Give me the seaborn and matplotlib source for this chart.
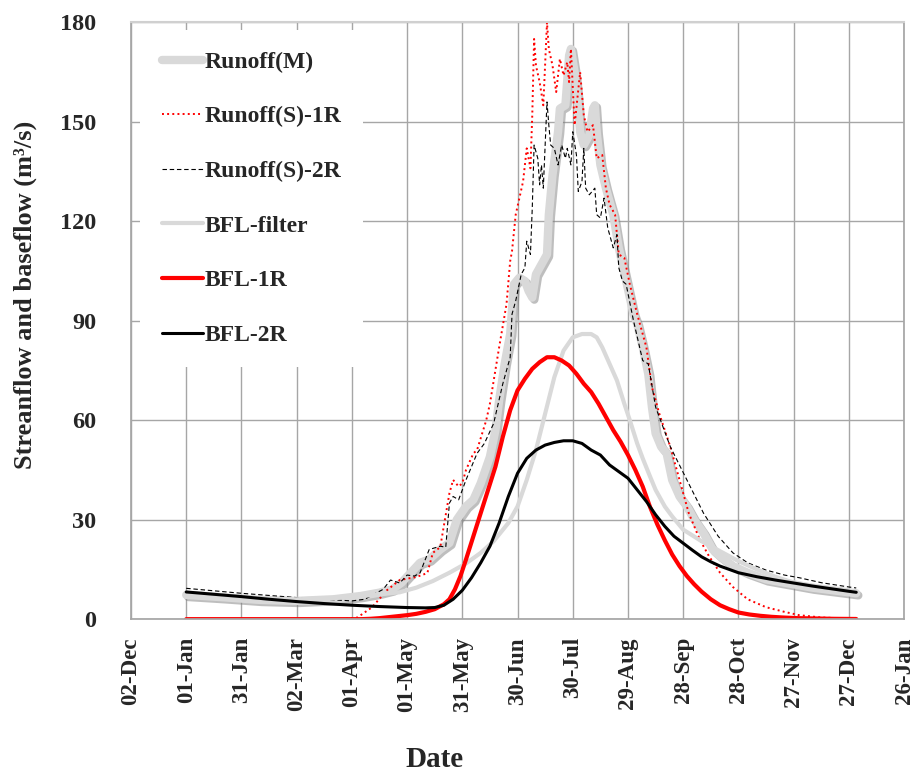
import pandas as pd
import seaborn as sns
import matplotlib.pyplot as plt
import matplotlib.dates as mdates
import matplotlib.patheffects as pe

m_day = [0, 20, 40, 60, 80, 95, 105, 112, 117, 122, 127, 132, 138, 143, 147, 152, 156, 160, 165, 168,
         170, 173, 176, 178, 181, 184, 186, 188, 190, 193, 196, 197, 199, 202, 203, 206, 208, 209, 211, 212,
         214, 216, 219, 221, 222, 223, 225, 228, 232, 235, 237, 239, 241, 243, 245, 248, 251, 253, 255, 258,
         261, 264, 268, 272, 276, 281, 286, 290, 297, 305, 315, 325, 340, 350, 364]
m_q = [7.3, 6.6, 5.8, 5.5, 6, 7, 8, 9, 11, 14, 17, 18, 21, 23, 30, 34, 36, 41, 49, 57,
       66, 77, 86, 101, 103, 102, 99, 97, 104, 107, 110, 122, 134, 147, 154, 155, 170, 172, 165, 160,
       147, 143, 146, 154, 155, 147, 137, 130, 122, 112, 107, 102, 97, 92, 89, 82, 74, 64, 56, 52,
       50, 42, 37, 34, 30, 26, 21, 19, 16, 14, 12, 11, 9.5, 8.8, 7.8]

s1_day = [0, 85, 93, 101, 109, 116, 125, 131, 134, 138, 143, 145, 148, 150, 152, 156, 158, 163, 165, 170,
          174, 176, 177, 179, 183, 185, 187, 188, 189, 190, 192, 194, 196, 197, 199, 201, 203, 205, 207, 208,
          209, 211, 214, 216, 218, 221, 223, 226, 228, 230, 233, 235, 238, 241, 245, 250, 253, 257, 263, 268,
          273, 279, 284, 290, 297, 305, 315, 325, 333, 345, 364]
s1_q = [0, 0, 0.5, 3.6, 8.7, 11.8, 12.7, 13.9, 20, 21.7, 38, 42, 40, 41, 45, 50, 51, 60, 65, 82,
        95, 108, 111, 122, 132, 142, 136, 152, 175, 167, 162, 155, 180, 172, 167, 159, 169, 164, 168, 162,
        172, 149, 165, 152, 147, 149, 139, 140, 130, 125, 122, 110, 109, 101, 92, 82, 70, 62, 52, 42,
        32, 24, 19, 14, 9.7, 6, 3.6, 2.2, 1.2, 0.5, 0.1]

s2_day = [0, 30, 60, 90, 97, 103, 107, 111, 116, 120, 124, 127, 132, 138, 141, 143, 145, 148, 152, 158,
          162, 167, 172, 176, 177, 179, 182, 184, 185, 187, 188, 189, 191, 192, 193, 194, 196, 197, 198, 200,
          202, 204, 206, 207, 209, 210, 212, 213, 215, 216, 217, 219, 222, 223, 225, 227, 229, 232, 234, 235,
          237, 239, 243, 248, 251, 255, 263, 272, 281, 289, 297, 305, 315, 325, 333, 345, 360, 364]
s2_q = [9.3, 7.8, 6.5, 5.5, 6, 7.8, 9, 11.8, 10.9, 13.3, 13, 13.9, 21, 22, 21.7, 35, 37, 36, 42, 50,
        53, 59, 71, 79, 92, 96, 104, 106, 114, 110, 124, 143, 139, 131, 137, 130, 156, 149, 143, 142,
        137, 143, 139, 142, 137, 147, 140, 129, 132, 142, 130, 128, 130, 122, 121, 127, 118, 112, 116, 106,
        102, 101, 90, 78, 77, 64, 52, 42, 32, 25, 20, 17, 14.8, 13.3, 12.5, 11, 9.7, 9.4]

filt_day = [0, 20, 40, 60, 80, 100, 116, 125, 134, 143, 152, 160, 167, 175, 180, 185, 190, 195, 200, 205,
            210, 215, 220, 223, 226, 230, 234, 238, 241, 245, 248, 252, 255, 260, 264, 270, 280, 290, 300, 310,
            320, 330, 340, 350, 364]
filt_q = [7, 6.6, 6.2, 6, 6.3, 7.2, 8.1, 9.5, 11.5, 14, 16.8, 20, 23.5, 29, 34, 42, 51, 62, 73, 81,
          85, 86, 86, 85, 82, 77, 72, 65, 60, 53, 48.5, 43, 39, 34, 31, 27, 23.5, 20.5, 17.5, 15,
          12.8, 11, 10, 9, 7.8]

b1_day = [0, 80, 95, 100, 105, 110, 115, 120, 125, 130, 135, 140, 143, 146, 149, 152, 156, 160, 164, 168,
          172, 176, 180, 184, 188, 192, 196, 200, 204, 208, 212, 216, 220, 224, 228, 232, 236, 240, 244, 248,
          252, 256, 260, 264, 268, 272, 276, 280, 285, 290, 295, 300, 306, 312, 318, 324, 332, 342, 352, 364]
b1_q = [0, 0, 0, 0.1, 0.3, 0.6, 0.9, 1.2, 1.6, 2.2, 3.0, 4.5, 6.0, 9, 13, 18, 25, 32, 39, 46,
        55, 63, 69, 72.5, 75.5, 77.5, 79, 79, 78, 76.5, 74, 71, 68.5, 65, 61, 57, 53.5, 49.5, 45, 40,
        33.8, 28.5, 23.8, 19.5, 16, 13, 10.5, 8.3, 6, 4.2, 3, 2, 1.4, 1, 0.7, 0.5, 0.3, 0.2, 0.1, 0.05]

b2_day = [0, 15, 30, 45, 60, 75, 90, 105, 120, 130, 135, 140, 145, 150, 155, 160, 165, 170, 175, 180,
          185, 190, 195, 200, 205, 210, 215, 220, 225, 230, 235, 240, 245, 250, 255, 260, 265, 270, 275, 280,
          285, 290, 295, 300, 310, 320, 330, 340, 350, 360, 364]
b2_q = [8.2, 7.5, 6.8, 6.0, 5.3, 4.7, 4.2, 3.8, 3.5, 3.4, 3.5, 4.2, 6.0, 8.7, 12.5, 17, 22, 29, 37, 44,
        48.5, 51, 52.5, 53.3, 53.8, 53.8, 53, 51, 49.5, 46.5, 44.5, 42.5, 39, 35.5, 31.5, 28, 25, 22.9, 20.8, 18.8,
        17.3, 16, 15, 14, 12.8, 11.8, 10.9, 10, 9.2, 8.4, 8.1]

start = pd.Timestamp('2001-01-01')


def to_date(days):
    return start + pd.to_timedelta(days, unit='D')


sns.set_theme(style='white')
plt.rcParams['font.family'] = ['Liberation Serif', 'DejaVu Serif']
plt.rcParams['font.weight'] = 'bold'

fig = plt.figure(figsize=(9.16, 7.72), dpi=100)
ax = fig.add_axes([0.143, 0.198, 0.844, 0.773])

sns.lineplot(x=to_date(m_day), y=m_q, ax=ax, color='#d9d9d9', lw=6, label='Runoff(M)')
sns.lineplot(x=to_date(s1_day), y=s1_q, ax=ax, color='red', lw=1.4, linestyle=':', label='Runoff(S)-1R')
sns.lineplot(x=to_date(s2_day), y=s2_q, ax=ax, color='black', lw=0.8, linestyle=(0, (4, 2.5)),
             label='Runoff(S)-2R')
sns.lineplot(x=to_date(filt_day), y=filt_q, ax=ax, color='#d9d9d9', lw=3, label='BFL-filter')
sns.lineplot(x=to_date(b1_day), y=b1_q, ax=ax, color='red', lw=3, label='BFL-1R')
sns.lineplot(x=to_date(b2_day), y=b2_q, ax=ax, color='black', lw=2.2, label='BFL-2R')

ax.set_xlim(pd.Timestamp('2000-12-02'), pd.Timestamp('2002-01-26'))
ax.set_xticks(pd.date_range('2000-12-02', periods=15, freq='30D'))
ax.xaxis.set_major_formatter(mdates.DateFormatter('%d-%b'))
ax.set_ylim(0, 180)
ax.set_yticks(range(0, 181, 30))

ax.grid(True, color='#a6a6a6', lw=1)
for side in ['left', 'bottom', 'right']:
    ax.spines[side].set_color('#a6a6a6')
ax.spines['top'].set_color('#d0d0d0')
ax.spines['top'].set_linewidth(1.5)

ax.tick_params(axis='x', labelrotation=90, labelsize=16.5, length=0, pad=13)
ax.tick_params(axis='y', labelsize=17.5, length=0, pad=25)

ax.set_xlabel('Date', fontsize=21, fontweight='bold')
ax.xaxis.set_label_coords(0.393, -0.213)
ax.set_ylabel('Streanflow and baseflow (m³/s)', fontsize=19, fontweight='bold')
ax.yaxis.set_label_coords(-0.122, 0.543)

leg = ax.legend(loc='upper left', bbox_to_anchor=(0.012, 0.987), frameon=True, facecolor='white',
                edgecolor='none', framealpha=1, prop={'size': 17, 'weight': 'bold'},
                labelspacing=1.4, handlelength=1.75, handletextpad=0.08, borderpad=0.9, borderaxespad=0)

# shadow only on the measured runoff line, not on its legend key
ax.lines[0].set_path_effects([pe.SimpleLineShadow(offset=(1.5, -1.5), shadow_color='#7f7f7f', alpha=0.5),
                              pe.Normal()])

fig.savefig('out.png', dpi=100)
